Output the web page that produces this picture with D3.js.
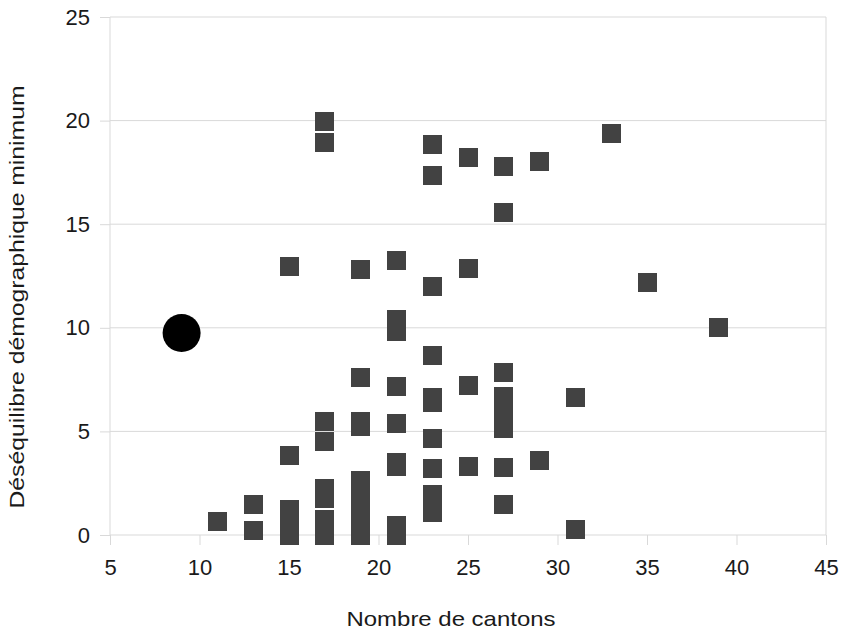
<!DOCTYPE html>
<html>
<head>
<meta charset="utf-8">
<script src="https://cdnjs.cloudflare.com/ajax/libs/d3/7.8.5/d3.min.js"></script>
<style>
  body { margin: 0; background: #fff; }
  svg text { font-family: "Liberation Sans", Arial, sans-serif; fill: #1a1a1a; }
</style>
</head>
<body>
<div id="chart"></div>
<script>
// values
var xTicks = [5, 10, 15, 20, 25, 30, 35, 40, 45],
    yTicks = [0, 5, 10, 15, 20, 25];

// the single round marker
var circleX = [9],
    circleY = [9.75];

// square markers, one array per cantons column
var sqX = [11, 13, 15, 17, 19, 21, 23, 25, 27, 29, 31, 33, 35, 39];
var sqY = [
  [0.65],
  [1.45, 0.2],
  [12.95, 3.85, 1.25, 0.6, 0],
  [19.95, 18.95, 5.5, 4.5, 2.25, 1.75, 0.75, 0],
  [12.8, 7.6, 5.5, 5.25, 2.65, 2.0, 1.3, 0.65, 0],
  [13.25, 10.4, 9.8, 7.15, 5.4, 3.5, 3.3, 0.45, 0],
  [18.85, 17.35, 12.0, 8.65, 6.65, 6.4, 4.65, 3.2, 1.95, 1.5, 1.1],
  [18.2, 12.85, 7.2, 3.3],
  [17.8, 15.55, 7.85, 6.7, 6.2, 5.65, 5.15, 3.25, 1.45],
  [18.05, 3.6],
  [6.65, 0.25],
  [19.4],
  [12.2],
  [10.0]
];

var margin = {top: 17, right: 19, bottom: 96, left: 110},
    W = 845, H = 631,
    width = W - margin.left - margin.right,
    height = H - margin.top - margin.bottom;

var x = d3.scaleLinear().domain([5, 45]).range([0, width]);
var y = d3.scaleLinear().domain([0, 25]).range([height, 0]);

var svg = d3.select("#chart").append("svg")
    .attr("width", W)
    .attr("height", H);

var g = svg.append("g")
    .attr("transform", "translate(" + margin.left + "," + margin.top + ")");

// horizontal grid
g.selectAll(".grid").data(yTicks).enter().append("line")
    .attr("x1", 0).attr("x2", width)
    .attr("y1", function(d){ return y(d); })
    .attr("y2", function(d){ return y(d); })
    .style("stroke", "#d9d9d9").style("stroke-width", 1);

// left / right frame
g.selectAll(".vframe").data([5, 45]).enter().append("line")
    .attr("x1", function(d){ return x(d); })
    .attr("x2", function(d){ return x(d); })
    .attr("y1", 0).attr("y2", height)
    .style("stroke", "#d9d9d9").style("stroke-width", 1);

// axes
var xAxis = d3.axisBottom(x).tickValues(xTicks).tickSize(10).tickPadding(14);
var xG = g.append("g").attr("transform", "translate(0," + height + ")").call(xAxis);
xG.select(".domain").remove();
xG.selectAll(".tick line").style("stroke", "#d9d9d9");
xG.selectAll(".tick text").style("font-size", "22px").style("font-family", "Liberation Sans, Arial, sans-serif").style("fill", "#1a1a1a");

var yAxis = d3.axisLeft(y).tickValues(yTicks).tickSize(10).tickPadding(10);
var yG = g.append("g").call(yAxis);
yG.select(".domain").remove();
yG.selectAll(".tick line").style("stroke", "#d9d9d9");
yG.selectAll(".tick text").style("font-size", "22px").style("font-family", "Liberation Sans, Arial, sans-serif").style("fill", "#1a1a1a");

// squares
var sqData = [];
sqX.forEach(function(cx, i){
  sqY[i].forEach(function(v){ sqData.push({x: cx, y: v}); });
});

var side = 19;
g.selectAll(".sq").data(sqData).enter().append("rect")
    .attr("x", function(d){ return x(d.x) - side / 2; })
    .attr("y", function(d){ return y(d.y) - side / 2; })
    .attr("width", side).attr("height", side)
    .attr("shape-rendering", "crispEdges")
    .style("fill", "#424242");

// circle
g.selectAll(".pt").data(circleX).enter().append("circle")
    .attr("cx", function(d){ return x(d); })
    .attr("cy", function(d, i){ return y(circleY[i]); })
    .attr("r", 19)
    .style("fill", "#000");

// axis titles
svg.append("text")
    .attr("x", 451).attr("y", 626)
    .attr("text-anchor", "middle")
    .attr("textLength", 209)
    .attr("lengthAdjust", "spacingAndGlyphs")
    .style("font-size", "21px")
    .text("Nombre de cantons");

svg.append("text")
    .attr("transform", "translate(24,297) rotate(-90)")
    .attr("text-anchor", "middle")
    .attr("textLength", 423)
    .attr("lengthAdjust", "spacingAndGlyphs")
    .style("font-size", "21px")
    .text("Déséquilibre démographique minimum");
</script>
</body>
</html>
